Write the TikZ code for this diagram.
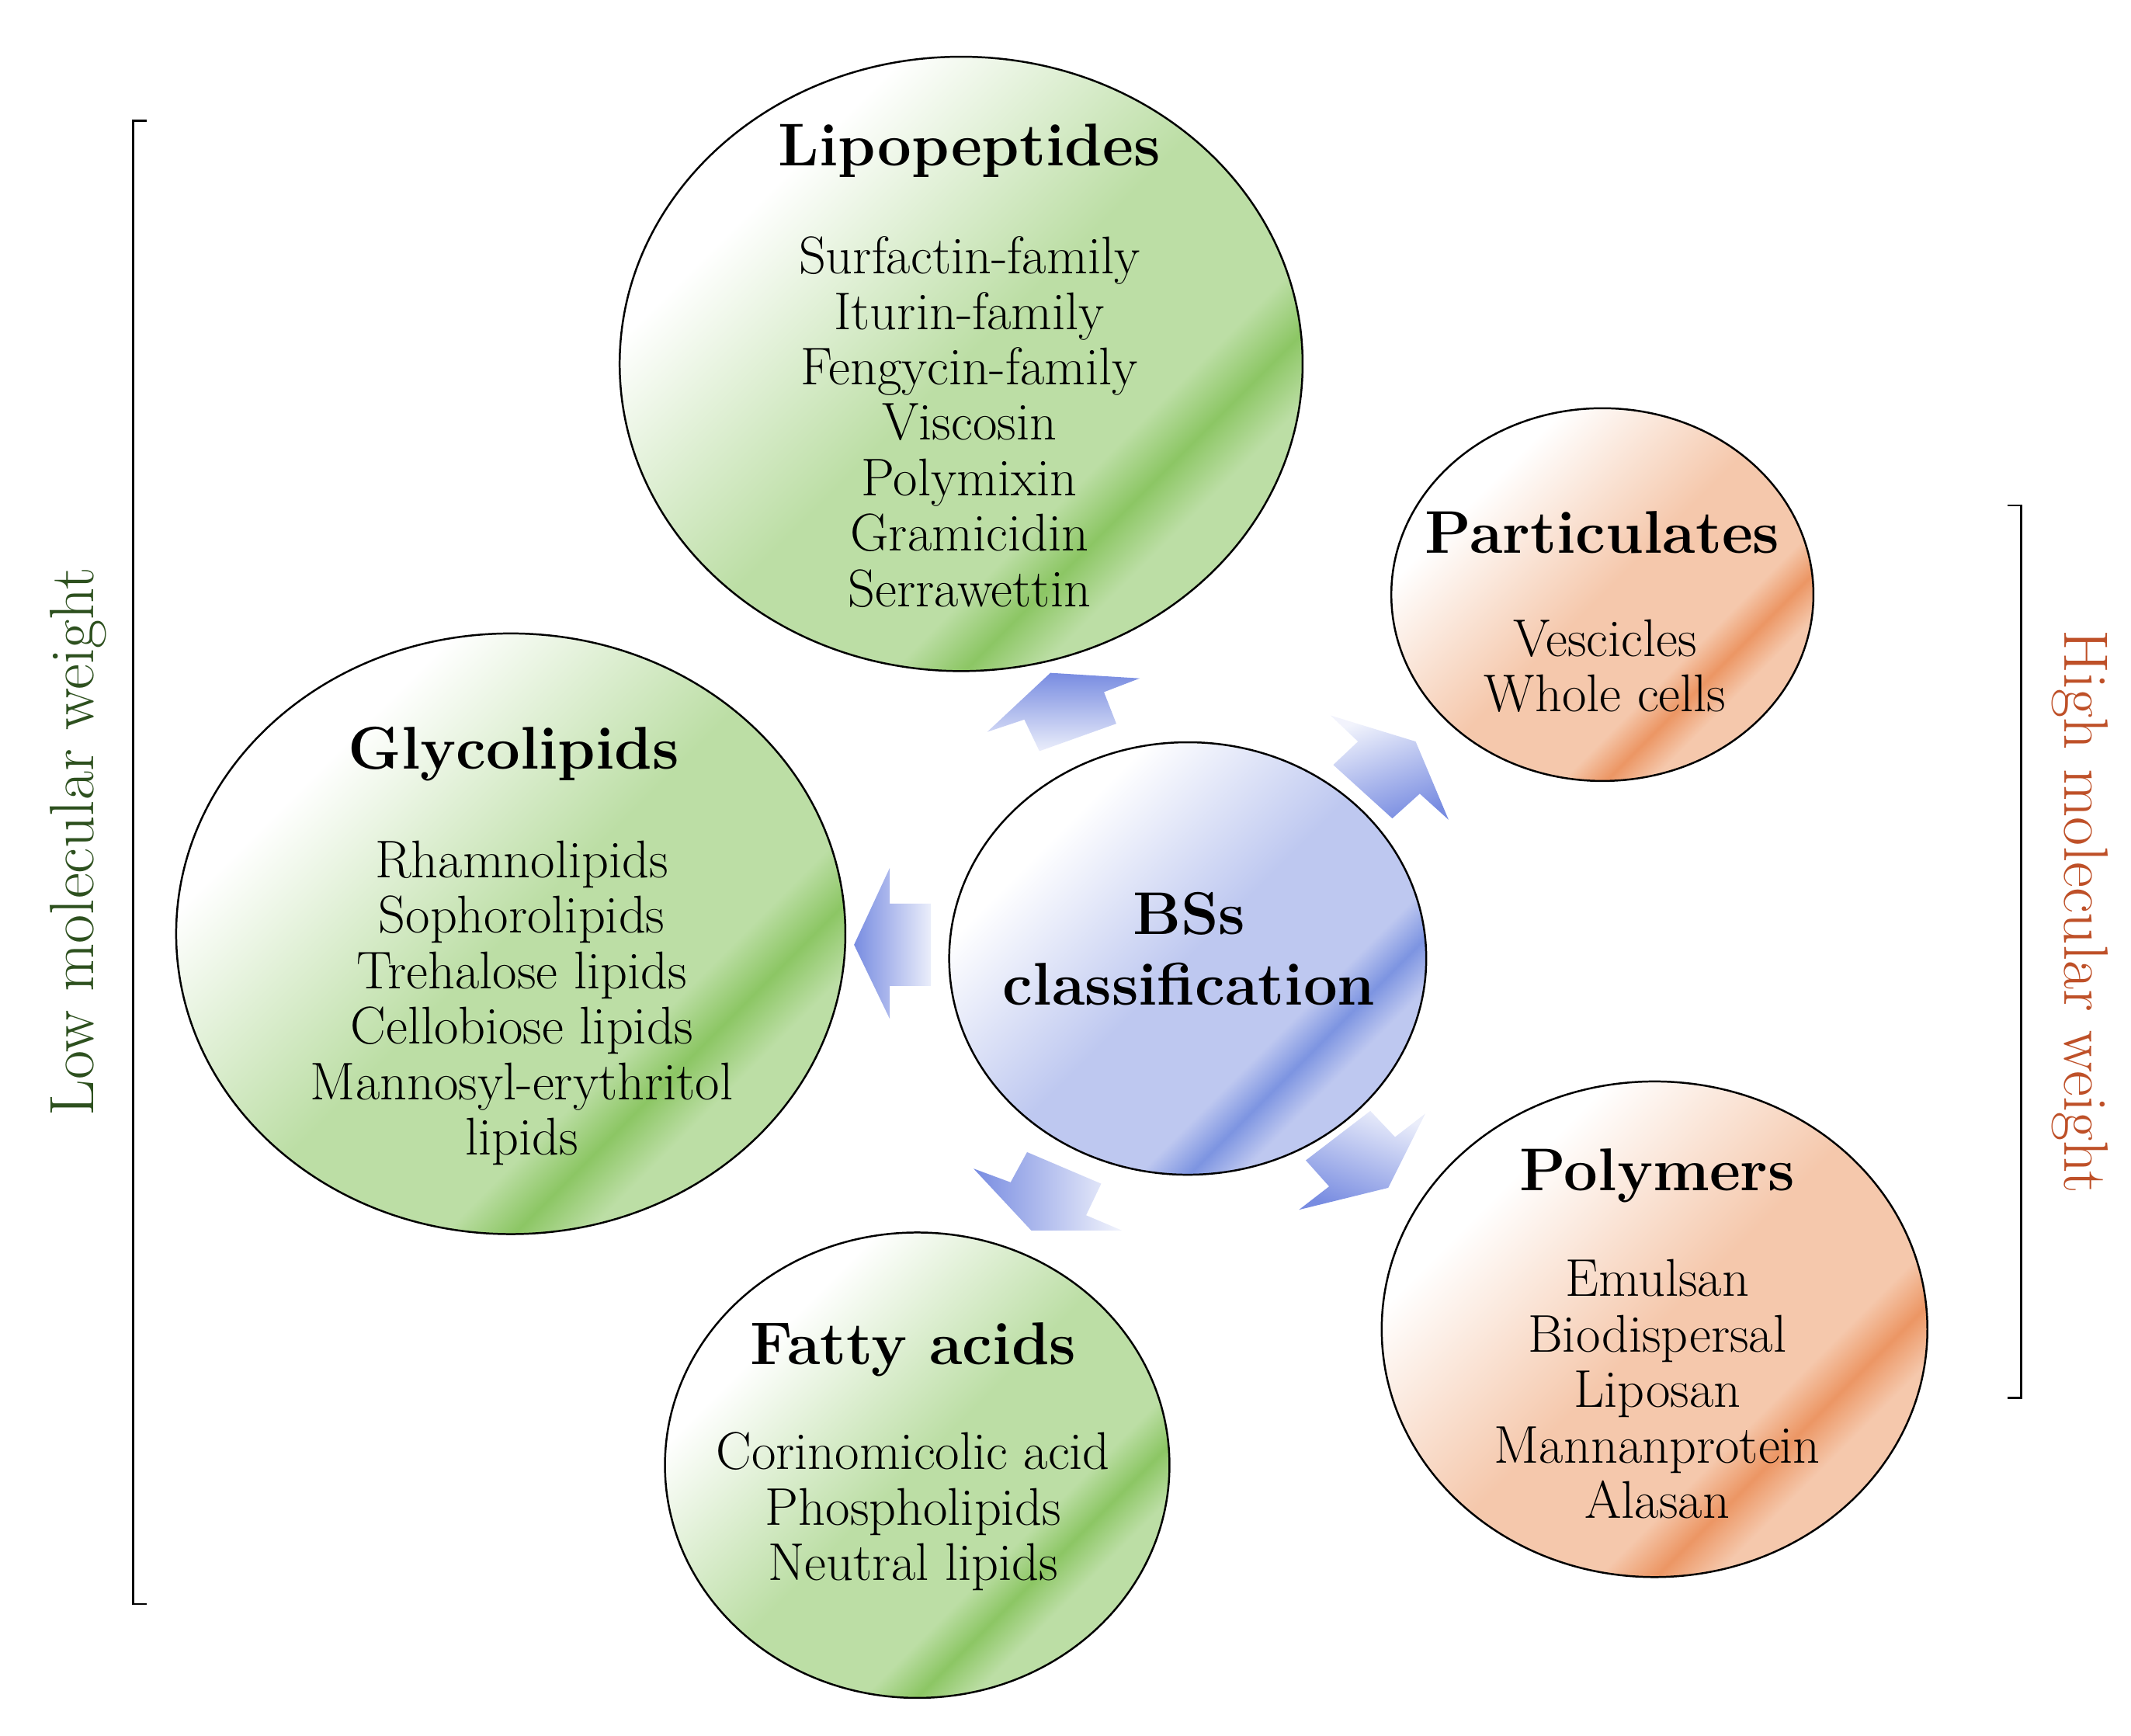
\documentclass[tikz,border=0pt]{standalone}
\usetikzlibrary{shapes.geometric}
\definecolor{Ga}{RGB}{188,222,165}
\definecolor{Gb}{RGB}{140,198,100}
\definecolor{Oa}{RGB}{245,200,172}
\definecolor{Ob}{RGB}{236,150,100}
\definecolor{Ba}{RGB}{190,200,240}
\definecolor{Bb}{RGB}{125,148,225}
\definecolor{AB}{RGB}{120,140,225}
\definecolor{LowC}{RGB}{45,80,30}
\definecolor{HighC}{RGB}{190,80,40}
\pgfdeclarehorizontalshading{gsh}{100bp}{color(0bp)=(white); color(30bp)=(white); color(50bp)=(Ga); color(63bp)=(Ga); color(67bp)=(Gb); color(71bp)=(Ga); color(100bp)=(Ga)}
\pgfdeclarehorizontalshading{osh}{100bp}{color(0bp)=(white); color(30bp)=(white); color(50bp)=(Oa); color(63bp)=(Oa); color(67bp)=(Ob); color(71bp)=(Oa); color(100bp)=(Oa)}
\pgfdeclarehorizontalshading{bsh}{100bp}{color(0bp)=(white); color(30bp)=(white); color(50bp)=(Ba); color(63bp)=(Ba); color(67bp)=(Bb); color(71bp)=(Ba); color(100bp)=(Ba)}
\tikzset{
  blob/.style={ellipse, draw=black, line width=0.8pt, inner sep=0pt, outer sep=0pt, shading angle=-45},
  ttl/.style={font=\fontsize{25}{29}\selectfont\bfseries},
  itm/.style={font=\fontsize{22}{23}\selectfont, align=center},
  brk/.style={line width=0.8pt}
}
\begin{document}
\begin{tikzpicture}[x=0.02cm,y=-0.02cm]
\useasboundingbox (0,0) rectangle (1552,1264);
% ellipses
\node[blob, shading=gsh, minimum width=9.95cm, minimum height=8.95cm] (lipo) at (700,265) {};
\node[blob, shading=osh, minimum width=6.15cm, minimum height=5.43cm] (part) at (1167,433) {};
\node[blob, shading=gsh, minimum width=9.75cm, minimum height=8.75cm] (glyco) at (372,680) {};
\node[blob, shading=bsh, minimum width=6.95cm, minimum height=6.3cm] (bss) at (865,698) {};
\node[blob, shading=osh, minimum width=7.95cm, minimum height=7.22cm] (poly) at (1205,968) {};
\node[blob, shading=gsh, minimum width=7.35cm, minimum height=6.78cm] (fatty) at (668,1067) {};
% arrows
\shade[top color=AB, bottom color=white!85!AB] (765,490)--(830,494)--(804,504)--(813,527)--(757,547)--(746,524)--(719,533)--cycle;
\shade[left color=white!90!AB, right color=AB, shading angle=20] (969,521)--(1031,540)--(1055,597)--(1034,578)--(1014,596)--(971,557)--(989,540)--cycle;
\shade[top color=white!85!AB, bottom color=AB, shading angle=-20] (998,809)--(1016,828)--(1038,811)--(1011,865)--(946,881)--(968,864)--(951,845)--cycle;
\shade[left color=AB, right color=white!90!AB] (748,839)--(802,862)--(791,885)--(817,896)--(751,896)--(709,851)--(736,861)--cycle;
\shade[left color=AB, right color=white!85!AB] (622,688)--(648,632)--(648,658)--(678,658)--(678,718)--(648,718)--(648,742)--cycle;
% texts
\node[ttl] (tlipo) at (706,110) {Lipopeptides};
\node[itm, anchor=north] (ilipo) at (706,166) {Surfactin-family\\Iturin-family\\Fengycin-family\\Viscosin\\Polymixin\\Gramicidin\\Serrawettin};
\node[ttl] (tpart) at (1167,388) {Particulates};
\node[itm, anchor=north] (ipart) at (1169,445) {Vescicles\\Whole cells};
\node[ttl] (tglyco) at (374,549) {Glycolipids};
\node[itm, anchor=north] (iglyco) at (380,606) {Rhamnolipids\\Sophorolipids\\Trehalose lipids\\Cellobiose lipids\\Mannosyl-erythritol\\lipids};
\node[ttl, align=center, font=\fontsize{25}{29}\selectfont\bfseries] (tbss) at (866,691) {BSs\\classification};
\node[ttl] (tpoly) at (1207,856) {Polymers};
\node[itm, anchor=north] (ipoly) at (1207,911) {Emulsan\\Biodispersal\\Liposan\\Mannanprotein\\Alasan};
\node[ttl] (tfatty) at (665,983) {Fatty acids};
\node[itm, anchor=north] (ifatty) at (665,1037) {Corinomicolic acid\\Phospholipids\\Neutral lipids};
% brackets
\draw[brk] (107,88)--(97,88)--(97,1168)--(107,1168);
\draw[brk] (1462,368)--(1472,368)--(1472,1018)--(1462,1018);
\node[rotate=90, text=LowC, font=\fontsize{26}{30}\selectfont] (low) at (57,613) {Low molecular weight};
\node[rotate=-90, text=HighC, font=\fontsize{26}{30}\selectfont] (high) at (1515,664) {High molecular weight};
\end{tikzpicture}
\end{document}
